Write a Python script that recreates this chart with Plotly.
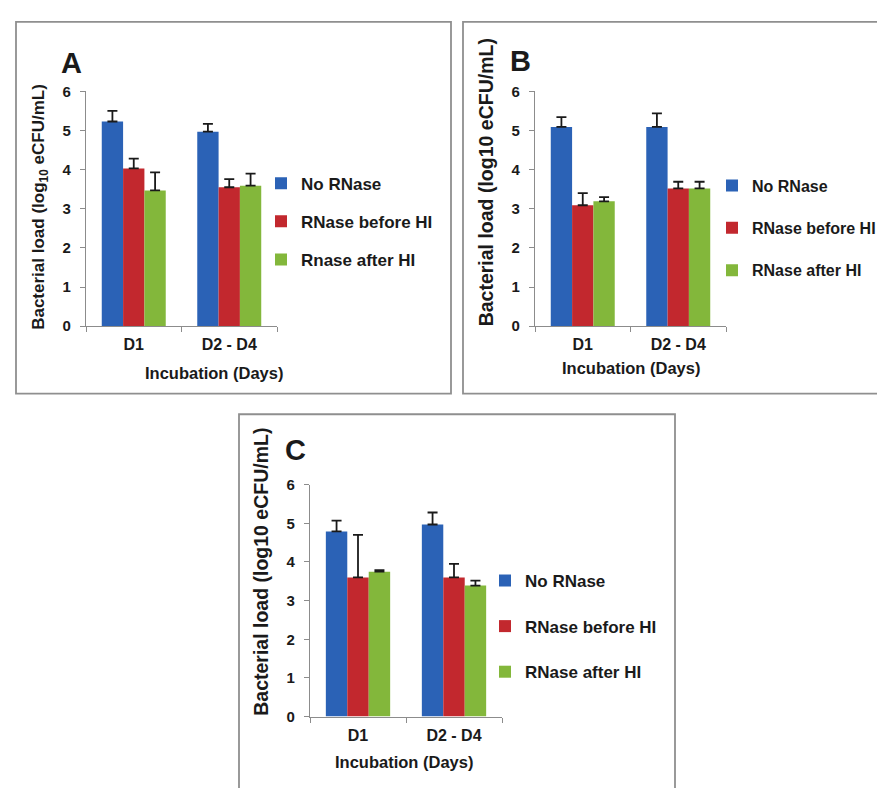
import plotly.graph_objects as go

# ---------------- data ----------------
categories = ["D1", "D2 - D4"]
names_A = ["No RNase", "RNase before HI", "Rnase after HI"]
names_BC = ["No RNase", "RNase before HI", "RNase after HI"]

A_no = [5.23, 4.97]
A_no_err = [0.27, 0.20]
A_before = [4.03, 3.55]
A_before_err = [0.25, 0.21]
A_after = [3.47, 3.59]
A_after_err = [0.46, 0.31]

B_no = [5.09, 5.09]
B_no_err = [0.25, 0.35]
B_before = [3.09, 3.52]
B_before_err = [0.31, 0.17]
B_after = [3.19, 3.52]
B_after_err = [0.11, 0.17]

C_no = [4.79, 4.97]
C_no_err = [0.28, 0.31]
C_before = [3.60, 3.60]
C_before_err = [1.10, 0.35]
C_after = [3.75, 3.39]
C_after_err = [0.04, 0.13]

y_ticks = [0, 1, 2, 3, 4, 5, 6]
colors = ["#2B62B6", "#C2282E", "#83B73B"]

W, H = 885, 788
FONT = "Liberation Sans, Arial, sans-serif"


def px(x):
    return x / W


def py(y):
    return 1 - y / H


fig = go.Figure()

panels = [
    dict(ax="", leg="legend", names=names_A,
         vals=[A_no, A_before, A_after], errs=[A_no_err, A_before_err, A_after_err]),
    dict(ax="2", leg="legend2", names=names_BC,
         vals=[B_no, B_before, B_after], errs=[B_no_err, B_before_err, B_after_err]),
    dict(ax="3", leg="legend3", names=names_BC,
         vals=[C_no, C_before, C_after], errs=[C_no_err, C_before_err, C_after_err]),
]

for p in panels:
    for i in range(3):
        fig.add_trace(go.Bar(
            x=categories, y=p["vals"][i], name=p["names"][i],
            xaxis="x" + p["ax"], yaxis="y" + p["ax"],
            legend=p["leg"], legendgroup=p["leg"] + str(i),
            marker=dict(color=colors[i], line=dict(width=0)),
            error_y=dict(type="data", array=p["errs"][i], symmetric=False,
                         arrayminus=[0, 0], color="#1a1a1a", thickness=1.8, width=5),
        ))

axis_common = dict(showline=True, linecolor="#8c8c8c", linewidth=1.2,
                   ticks="outside", ticklen=5, tickcolor="#8c8c8c",
                   showgrid=False, zeroline=False)
xfont = dict(family=FONT, size=16, color="#1a1a1a", weight="bold")
yfont = dict(family=FONT, size=15, color="#1a1a1a", weight="bold")

# plot areas (pixel geometry from reference)
geo = {
    "": dict(x0=78, x1=269, y0=76, y1=316),
    "2": dict(x0=527, x1=718, y0=76, y1=316),
    "3": dict(x0=302, x1=494, y0=478, y1=715),
}
layout = {}
for k, g in geo.items():
    layout["xaxis" + k] = dict(domain=[px(g["x0"]), px(g["x1"])], anchor="y" + k,
                               tickson="boundaries", tickfont=xfont,
                               ticklabelstandoff=4, **axis_common)
    layout["yaxis" + k] = dict(domain=[py(g["y1"]), py(g["y0"])], anchor="x" + k,
                               range=[0, 6], tickvals=y_ticks, tickfont=yfont,
                               ticklabelstandoff=6, **axis_common)

legfont = dict(family=FONT, size=17, color="#1a1a1a", weight="bold")
layout["legend"] = dict(x=px(253), y=py(152), xanchor="left", yanchor="top",
                        font=legfont, tracegroupgap=13, bgcolor="rgba(0,0,0,0)")
layout["legend2"] = dict(x=px(704), y=py(155), xanchor="left", yanchor="top",
                         font=dict(legfont, size=16), tracegroupgap=18.5,
                         bgcolor="rgba(0,0,0,0)")
layout["legend3"] = dict(x=px(477), y=py(558), xanchor="left", yanchor="top",
                         font=legfont, tracegroupgap=20.5, bgcolor="rgba(0,0,0,0)")

fig.update_layout(
    width=W, height=H, autosize=False,
    margin=dict(l=0, r=0, t=0, b=0),
    paper_bgcolor="white", plot_bgcolor="white",
    barmode="group", bargap=0.33, bargroupgap=0,
    **layout,
)

# panel frames
frame = dict(type="rect", xref="paper", yref="paper",
             line=dict(color="#8f8f8f", width=1.8), fillcolor="rgba(0,0,0,0)", layer="below")
fig.add_shape(x0=px(8), x1=px(443), y0=py(385), y1=py(5), **frame)
fig.add_shape(x0=px(455), x1=px(884), y0=py(385), y1=py(5), **frame)
fig.add_shape(x0=px(231), x1=px(667), y0=-0.02, y1=py(406), **frame)

ann_font = dict(family=FONT, color="#1a1a1a", weight="bold")
annots = [
    # panel letters
    dict(text="A", x=px(63), y=py(47), font=dict(ann_font, size=29)),
    dict(text="B", x=px(512), y=py(45), font=dict(ann_font, size=29)),
    dict(text="C", x=px(287), y=py(443), font=dict(ann_font, size=29)),
    # x titles
    dict(text="Incubation (Days)", x=px(206), y=py(364), font=dict(ann_font, size=16.5)),
    dict(text="Incubation (Days)", x=px(623), y=py(359), font=dict(ann_font, size=16.5)),
    dict(text="Incubation (Days)", x=px(396), y=py(761), font=dict(ann_font, size=16.5)),
    # y titles
    dict(text="Bacterial load (log<sub>10</sub> eCFU/mL)", x=px(32), y=py(194),
         textangle=-90, font=dict(ann_font, size=17)),
    dict(text="Bacterial load (log10 eCFU/mL)", x=px(478), y=py(169),
         textangle=-90, font=dict(ann_font, size=19.5)),
    dict(text="Bacterial load (log10 eCFU/mL)", x=px(253), y=py(567),
         textangle=-90, font=dict(ann_font, size=19.5)),
]
for a in annots:
    fig.add_annotation(xref="paper", yref="paper", showarrow=False,
                       xanchor="center", yanchor="middle", **a)

fig.write_html("out.html")
